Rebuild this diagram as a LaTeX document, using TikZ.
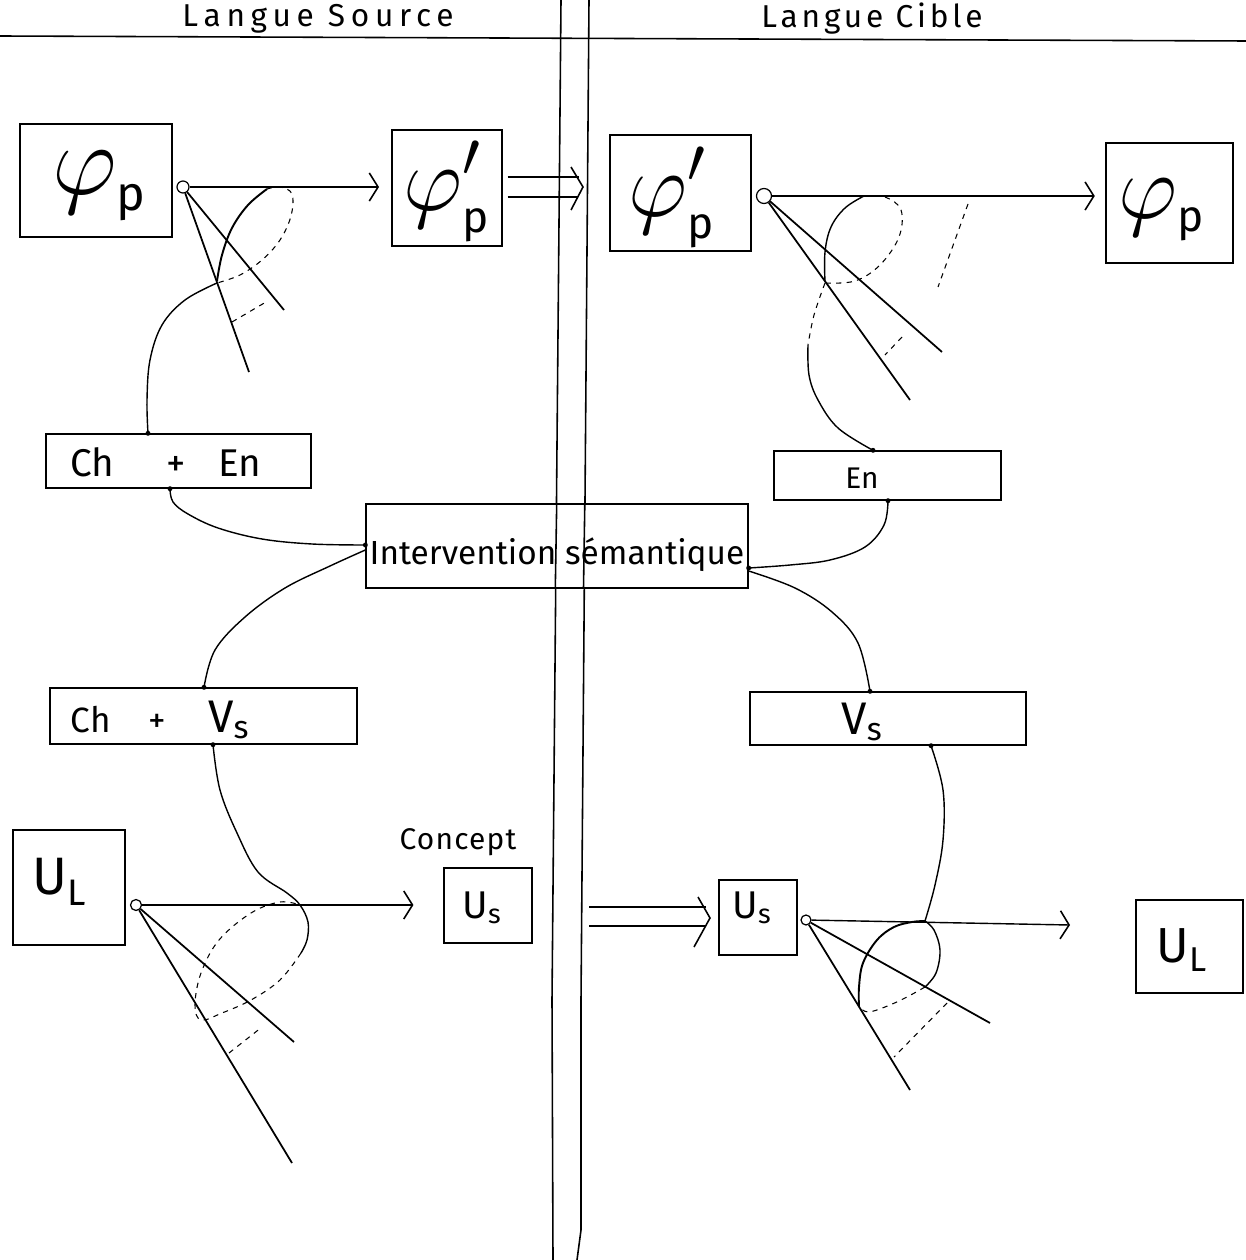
\documentclass[tikz,border=0pt]{standalone}
\usepackage{fontspec}
\setmainfont{Fira Sans}
\usetikzlibrary{arrows.meta,calc}
\newcommand{\fsz}[1]{\fontsize{#1}{#1}\selectfont}
\newcommand{\phisub}{\varphi_{\scriptscriptstyle\mathrm{p}}}
\newcommand{\phiprime}{\varphi'_{\scriptscriptstyle\mathrm{p}}}
\begin{document}
\begin{tikzpicture}[x=0.02cm,y=-0.02cm,
  box/.style={draw, line width=0.8pt, inner sep=0pt},
  txt/.style={inner sep=0pt},
  cone/.style={line width=1pt},
  crv/.style={line width=0.8pt},
  dsh/.style={line width=0.6pt, dash pattern=on 3pt off 3pt},
  arr/.style={line width=0.8pt, -{Straight Barb[length=5pt,width=16pt,line width=0.9pt]}},
  ring/.style={circle, draw, line width=0.7pt, inner sep=0pt},
  frame/.style={line width=0.9pt},
]
\useasboundingbox (0,0) rectangle (1246,1260);

% headers and frame
\node[txt] (hsrc) at (318,19) {\fsz{18}\addfontfeature{LetterSpace=18}Langue Source};
\node[txt] (hcib) at (872,19) {\fsz{18}\addfontfeature{LetterSpace=12}Langue Cible};
\draw[frame] (0,36) -- (1246,41);
\draw[frame] (561,0) -- (552,1000) -- (553,1260);
\draw[frame] (589,0) -- (581,1000) -- (581,1230) -- (577,1260);

% boxes
\node[box, minimum width=3.04cm, minimum height=2.26cm] (phiL) at (96,180.5) {};
\node[box, minimum width=2.2cm, minimum height=2.32cm] (phiPL) at (447,188) {};
\node[box, minimum width=2.82cm, minimum height=2.32cm] (phiPR) at (680.5,193) {};
\node[box, minimum width=2.54cm, minimum height=2.4cm] (phiR) at (1169.5,203) {};
\node[box, minimum width=5.3cm, minimum height=1.08cm] (chen) at (178.5,461) {};
\node[box, minimum width=4.54cm, minimum height=0.98cm] (en) at (887.5,475.5) {};
\node[box, minimum width=7.64cm, minimum height=1.68cm, fill=white] (interv) at (557,546) {};
\node[box, minimum width=6.14cm, minimum height=1.12cm] (chvs) at (203.5,716) {};
\node[box, minimum width=5.52cm, minimum height=1.06cm] (vs) at (888,718.5) {};
\node[box, minimum width=2.24cm, minimum height=2.3cm] (UL) at (69,887.5) {};
\node[box, minimum width=1.76cm, minimum height=1.5cm] (Us) at (488,905.5) {};
\node[box, minimum width=1.56cm, minimum height=1.5cm] (UsR) at (758,917.5) {};
\node[box, minimum width=2.14cm, minimum height=1.86cm] (ULR) at (1189.5,946.5) {};

% the double line passes over the middle box
\draw[frame] (556.7,504) -- (555.3,588);
\draw[frame] (584.8,504) -- (583.5,588);

% box texts
\node[txt, scale=2.3] (tphiL) at (100,186) {\fsz{24}$\phisub$};
\node[txt, scale=2.1] (tphiPL) at (447,192) {\fsz{24}$\phiprime$};
\node[txt, scale=2.1] (tphiPR) at (672,198) {\fsz{24}$\phiprime$};
\node[txt, scale=2.1] (tphiR) at (1162,210) {\fsz{24}$\phisub$};
\node[txt] (tchen) at (166,462) {\fsz{22}Ch\hspace{1.05cm}+\hspace{0.65cm}En};
\node[txt] (ten) at (862,478) {\fsz{17}En};
\node[txt] (tint) at (557,555) {\fsz{19}Intervention sémantique};
\node[txt] (tchvs) at (160,720) {\fsz{20}Ch\hspace{0.75cm}+\hspace{0.85cm}{\fsz{26}V\textsubscript{s}}};
\node[txt] (tvs) at (862,722) {\fsz{26}V\textsubscript{s}};
\node[txt] (tconc) at (458,842) {\fsz{17}\addfontfeature{LetterSpace=4}Concept};
\node[txt] (tUL) at (60,882) {\fsz{30}U\textsubscript{L}};
\node[txt] (tUs) at (482,908) {\fsz{22}U\textsubscript{s}};
\node[txt] (tUsR) at (752,908) {\fsz{22}U\textsubscript{s}};
\node[txt] (tULR) at (1182,950) {\fsz{28}U\textsubscript{L}};

% apex rings
\node[ring, minimum size=0.24cm] (c1) at (183,187) {};
\node[ring, minimum size=0.3cm] (c2) at (764,196) {};
\node[ring, minimum size=0.22cm] (c3) at (136,905) {};
\node[ring, minimum size=0.2cm] (c4) at (806,920) {};

% ports on the boxes
\coordinate (chenT) at ($(chen.north)+(-30.5,0)$);
\coordinate (chenB) at ($(chen.south)+(-8.5,0)$);
\coordinate (intW) at ($(interv.west)+(0,-1)$);
\coordinate (intW2) at ($(interv.west)+(0,4)$);
\coordinate (intE) at ($(interv.east)+(0,22)$);
\coordinate (intE2) at ($(interv.east)+(0,25)$);
\coordinate (enT) at ($(en.north)+(-14.5,0)$);
\coordinate (enB) at ($(en.south)+(0.5,0)$);
\coordinate (chvsT) at ($(chvs.north)+(0.5,0)$);
\coordinate (chvsB) at ($(chvs.south)+(9.5,0)$);
\coordinate (vsT) at ($(vs.north)+(-18,0)$);
\coordinate (vsB) at ($(vs.south)+(43,0)$);
\foreach \p in {chenT,chenB,intW,intE,enT,enB,chvsT,chvsB,vsT,vsB}
  \fill (\p) circle (1.4pt);

% horizontal arrows
\draw[arr, shorten >=7pt] (c1) -- (c1 -| phiPL.west);
\draw[arr, shorten >=6pt] (c2) -- (c2 -| phiR.west);
\draw[arr, shorten >=17pt] (c3) -- (c3 -| Us.west);
\coordinate (a4end) at (1070,925);
\draw[arr] (c4) -- (a4end);

% double arrows
\coordinate (d1tip) at (583,187);
\draw[line width=0.8pt] ($(phiPL.east)+(5,-11)$) -- ($(d1tip)+(-4,-10)$);
\draw[line width=0.8pt] ($(phiPL.east)+(5,9)$) -- ($(d1tip)+(-5,10)$);
\draw[line width=0.9pt] ($(d1tip)+(-12,-20)$) -- (d1tip) -- ($(d1tip)+(-12,23)$);
\coordinate (d2s) at (589,916);
\coordinate (d2tip) at (710,918);
\draw[line width=0.8pt] ($(d2s)+(0,-9)$) -- ($(d2tip)+(-4,-11)$);
\draw[line width=0.8pt] ($(d2s)+(0,10)$) -- ($(d2tip)+(-4,8)$);
\draw[line width=0.9pt] ($(d2tip)+(-12,-21)$) -- (d2tip) -- ($(d2tip)+(-16,29)$);

% ---- cone 1 (top left)
\coordinate (k1a) at (249,372);
\coordinate (k1b) at (284,310);
\draw[cone] (c1) -- (k1a);
\draw[cone] (c1) -- (k1b);
\draw[dsh] (232,322) -- (266,302);
\draw[line width=1.1pt] plot[smooth, tension=0.6] coordinates {(217,281) (222,255) (232,228) (248,205) (267,189)};
\draw[dsh] plot[smooth, tension=0.6] coordinates {(267,189) (280,187) (292,194) (291,216) (280,240) (262,260) (240,275) (217,283)};
\draw[crv] plot[smooth, tension=0.6] coordinates {(chenT) (147,400) (150,360) (162,325) (185,300) (217,283)};

% ---- cone 2 (top right)
\coordinate (k2a) at (942,352);
\coordinate (k2b) at (910,400);
\draw[cone] (c2) -- (k2a);
\draw[cone] (c2) -- (k2b);
\draw[dsh] (968,204) -- (938,287);
\draw[dsh] (902,337) -- (885,355);
\draw[crv] plot[smooth, tension=0.6] coordinates {(864,196) (845,208) (831,227) (825,252) (825,282)};
\draw[dsh] plot[smooth, tension=0.6] coordinates {(864,196) (885,197) (901,210) (899,237) (880,265) (855,281) (825,283)};
\draw[dsh] plot[smooth, tension=0.6] coordinates {(825,283) (814,315) (808,345)};
\draw[crv] plot[smooth, tension=0.6] coordinates {(808,345) (809,375) (818,400) (838,428) (enT)};

% ---- middle connectors
\draw[crv] plot[smooth, tension=0.6] coordinates {(chenB) (173,502) (188,514) (218,528) (262,539) (312,544) (intW)};
\draw[crv] plot[smooth, tension=0.6] coordinates {(enB) (884,525) (865,547) (830,560) (790,565) (intE)};
\draw[crv] plot[smooth, tension=0.6] coordinates {(intW2) (330,566) (285,588) (245,617) (215,650) (chvsT)};
\draw[crv] plot[smooth, tension=0.6] coordinates {(intE2) (795,588) (832,612) (858,643) (vsT)};

% ---- cone 3 (bottom left)
\coordinate (k3a) at (292,1163);
\coordinate (k3b) at (294,1042);
\draw[cone] (c3) -- (k3a);
\draw[cone] (c3) -- (k3b);
\draw[dsh] (229,1053) -- (262,1027);
\draw[crv] plot[smooth, tension=0.6] coordinates {(chvsB) (220,790) (237,833) (258,872) (287,893) (300,905) (308,922) (307,940) (301,953)};
\draw[dsh] plot[smooth, tension=0.6] coordinates {(301,953) (280,980) (251,1000) (222,1013) (201,1020) (195,1005) (201,973) (219,940) (251,913) (280,902) (300,905)};

% ---- cone 4 (bottom right)
\coordinate (k4a) at (990,1023);
\coordinate (k4b) at (910,1090);
\draw[cone] (c4) -- (k4a);
\draw[cone] (c4) -- (k4b);
\draw[dsh] (947,1003) -- (894,1057);
\draw[crv] plot[smooth, tension=0.6] coordinates {(vsB) (943,790) (943,840) (935,885) (925,921)};
\draw[crv] plot[smooth, tension=0.6] coordinates {(925,921) (934,930) (940,950) (936,973) (925,987)};
\draw[dsh] plot[smooth, tension=0.6] coordinates {(925,987) (905,998) (885,1007) (868,1012) (859,1007)};
\draw[line width=1.1pt] plot[smooth, tension=0.6] coordinates {(859,1007) (859,987) (863,963) (877,940) (894,927) (912,922) (925,921)};
\end{tikzpicture}
\end{document}
